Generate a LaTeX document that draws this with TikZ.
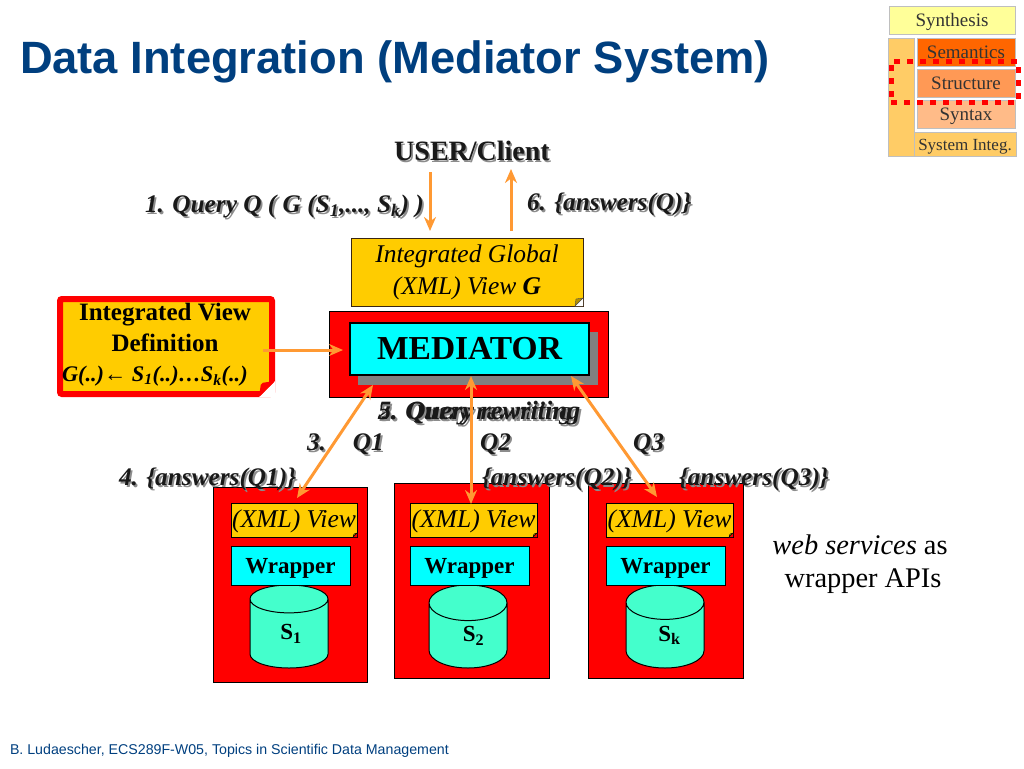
\documentclass[tikz,border=0pt]{standalone}
\usepackage{fontspec}
\setmainfont{Liberation Serif}
\newfontfamily\headfont{Liberation Sans}
\usepackage{tikz}
\usetikzlibrary{arrows.meta,positioning,shapes.geometric}
\definecolor{titleblue}{HTML}{003F7F}
\definecolor{viewyellow}{HTML}{FFCC00}
\definecolor{linkorange}{HTML}{FF9933}
\definecolor{dbgreen}{HTML}{44FFCC}
\definecolor{boxcyan}{HTML}{00FFFF}
\definecolor{stackside}{HTML}{FFCC66}
\definecolor{stacksyn}{HTML}{FFFF99}
\definecolor{stacksem}{HTML}{FF6600}
\definecolor{stackstr}{HTML}{FF9955}
\definecolor{stacksyx}{HTML}{FFBB88}
\newcommand{\fs}[2]{\fontsize{#1}{#2}\selectfont}
% slanted label with a grey copy behind it
\newcommand{\shlabel}[3]{%
  \node[lblshadow] at ([shift={(1.8,1.8)}]#2) {#3};
  \node[lbl] (#1) at (#2) {#3};}
% turned-up corner, #2 = size, #3 = colour around the note
\newcommand{\foldnote}[4]{%
  \fill[#3] (#1.south east) ++(-#2,0) -- (#1.south east) -- ++(0,-#2) -- cycle;
  \draw[#4, fill=viewyellow!70!black] (#1.south east) ++(-#2,0) -- ++(#2,-#2) -- ++(-#2+1,1) -- cycle;}

\begin{document}
\begin{tikzpicture}[
  x=1pt, y=-1pt,
  every node/.style={inner sep=0pt, outer sep=0pt},
  lbl/.style={font=\fs{25.3}{28}\bfseries\itshape, anchor=west, text=black!90, yshift=-2.5pt},
  lblshadow/.style={lbl, text=black!45},
  note/.style={draw=black!70!brown, fill=viewyellow, align=center, anchor=north west},
  xmlview/.style={note, draw=black, minimum height=34pt, text height=20pt, text depth=5pt,
                  font=\fs{25.6}{28}\itshape},
  redbox/.style={draw=black, fill=red, anchor=north west},
  wrap/.style={draw=black, fill=boxcyan, anchor=north west, minimum width=119pt,
               minimum height=39pt, text height=18pt, text depth=3pt, font=\fs{23}{27}\bfseries},
  db/.style={draw=black, line width=1pt, fill=dbgreen, shape=cylinder, shape border rotate=90,
             aspect=1.1, minimum width=78pt, minimum height=83pt, anchor=north,
             font=\fs{23}{27}\bfseries},
  layer/.style={draw=black!25, anchor=north west, minimum width=98pt, minimum height=28pt,
                text height=15pt, text depth=2pt, font=\fs{19}{22}, text=black!80},
  arr/.style={-{Stealth[length=14pt,width=12pt]}, line width=3pt, draw=linkorange},
  darr/.style={{Stealth[length=14pt,width=12pt]}-{Stealth[length=14pt,width=12pt]},
               line width=3pt, draw=linkorange}
]
\useasboundingbox (0,0) rectangle (1024,768);
\node[anchor=base west, font=\headfont\fs{45.3}{50}\bfseries, text=titleblue] (title) at (20,73)
  {Data Integration (Mediator System)};
% layer stack in the corner
\node[draw=black!25, fill=stackside, anchor=north west, minimum width=26pt, minimum height=118pt] (side) at (888,38) {};
\node[layer, fill=stackside, minimum width=102pt, minimum height=24pt, text height=14pt, text depth=1pt, font=\fs{17}{20}] (sysinteg) at (914,132) {System Integ.};
\node[layer, fill=stacksyn, minimum width=126pt] (synth) at (889,6) {Synthesis};
\node[layer, fill=stacksem] (sem) at (917,38) {Semantics};
\node[layer, fill=stackstr] (struct) at (917,69) {Structure};
\node[layer, fill=stacksyx] (syntax) at (917,100) {Syntax};
\node[draw=red, line width=5pt, dash pattern=on 6pt off 7pt, anchor=north west,
      minimum width=127pt, minimum height=41pt] (focus) at (891,61) {};
% user and global view
\node[font=\fs{28}{32}\bfseries, text=black!45] at (473.5,152.5) {USER/Client};
\node[font=\fs{28}{32}\bfseries, text=black!90] (user) at (472,151) {USER/Client};
\node[note, minimum width=232pt, minimum height=68pt, font=\fs{25.5}{32}\itshape] (global) at (351,238)
  {Integrated Global\hspace{6pt}\\(XML) View \textbf{G}\hspace{18pt}};
\foldnote{global}{8}{white}{black!70}
\shlabel{ask}{145,204}{1. Query Q ( G (S\textsubscript{1},..., S\textsubscript{k}) )}
\shlabel{ans}{527,202}{6. \{answers(Q)\}}
% mediator
\node[redbox, minimum width=279pt, minimum height=86pt] (medbg) at (329,311) {};
\fill[black!50] (358,332) rectangle (598,385);
\node[draw=black, line width=2pt, fill=boxcyan, anchor=north west, minimum width=239pt, minimum height=52pt,
      font=\fs{33.5}{38}\bfseries] (medi) at (350,323) {MEDIATOR};
% view definition
\node[draw=red, line width=6pt, fill=viewyellow, rounded corners=2pt, align=center, anchor=north west,
      minimum width=212pt, minimum height=95pt] (ivd) at (60,299) {};
\fill[white] ([shift={(3,3)}]ivd.south east) ++(-16,0) -- ++(16,0) -- ++(0,-16) -- cycle;
\fill[red, rounded corners=2pt] ([shift={(3,3)}]ivd.south east) ++(-16,0) -- ++(16,-16) -- ++(-14,2) -- cycle;
\node[font=\fs{25}{31}\bfseries, align=center, anchor=north] (ivdtext) at (165,303) {Integrated View\\Definition};
\node[font=\fs{22.3}{25}\bfseries\itshape, anchor=west] (ivdrule) at (62,376)
  {G(..)← S\textsubscript{1}(..)…S\textsubscript{k}(..)};
% rewriting text sits twice on the same spot
\shlabel{rewrite}{378,411}{2. Query rewriting}
\shlabel{rewritetwo}{378,411}{\fs{26.4}{28}5. Query rewriting}
\shlabel{qone}{307,442}{3.\hspace{27pt}Q1}
\shlabel{qtwo}{480,442}{Q2}
\shlabel{qthree}{633,442}{Q3}
% sources
\node[redbox, minimum width=154pt, minimum height=195pt] (srcone) at (213,487) {};
\node[redbox, minimum width=155pt, minimum height=195pt] (srctwo) at (394,483) {};
\node[redbox, minimum width=155pt, minimum height=195pt] (srcthree) at (588,483) {};
\node[xmlview, minimum width=126pt] (viewone) at (231,503) {(XML) View};
\node[xmlview, minimum width=127pt] (viewtwo) at (410,503) {(XML) View};
\node[xmlview, minimum width=127pt] (viewthree) at (606,503) {(XML) View};
\foldnote{viewone}{4}{red}{black}
\foldnote{viewtwo}{4}{red}{black}
\foldnote{viewthree}{4}{red}{black}
\node[db] (dbone) at (289,585) {\raisebox{-5pt}{\hspace*{4pt}S\textsubscript{1}}};
\node[db] (dbtwo) at (468,585) {\raisebox{-5pt}{\hspace*{11pt}S\textsubscript{2}}};
\node[db] (dbthree) at (665,585) {\raisebox{-5pt}{\hspace*{9pt}S\textsubscript{k}}};
\node[wrap] (wrapone) at (231,546) {Wrapper};
\node[wrap] (wraptwo) at (410,546) {Wrapper};
\node[wrap] (wrapthree) at (606,546) {Wrapper};
\shlabel{ansone}{119,477}{4. \{answers(Q1)\}}
\shlabel{anstwo}{482,477}{\{answers(Q2)\}}
\shlabel{ansthree}{679,477}{\{answers(Q3)\}}
\node[font=\fs{28.4}{33}, align=center] (wsnote) at (860,564) {\textit{web services} as\\\hspace{6pt}wrapper APIs};
\node[font=\headfont\fs{14.2}{16}, text=titleblue, anchor=base west] (foot) at (10,754)
  {B. Ludaescher, ECS289F-W05, Topics in Scientific Data Management};
% links
\coordinate (downtop) at (430,172);
\coordinate (downend) at (430,231);
\coordinate (uptop) at (511,169);
\coordinate (upend) at (511,231);
\coordinate (medone) at (373,385);
\coordinate (medtwo) at (471,376);
\coordinate (medthree) at (571,376);
\coordinate (srconeend) at (297,498);
\coordinate (srctwoend) at (471,504);
\coordinate (srcthreeend) at (657,497);
\coordinate (ivdout) at (263,350);
\coordinate (medin) at (343,350);
\draw[arr] (downtop) -- (downend);
\draw[arr] (upend) -- (uptop);
\draw[arr] (ivdout) -- (medin);
\draw[darr] (medone) -- (srconeend);
\draw[darr] (medtwo) -- (srctwoend);
\draw[darr] (medthree) -- (srcthreeend);
\end{tikzpicture}
\end{document}
